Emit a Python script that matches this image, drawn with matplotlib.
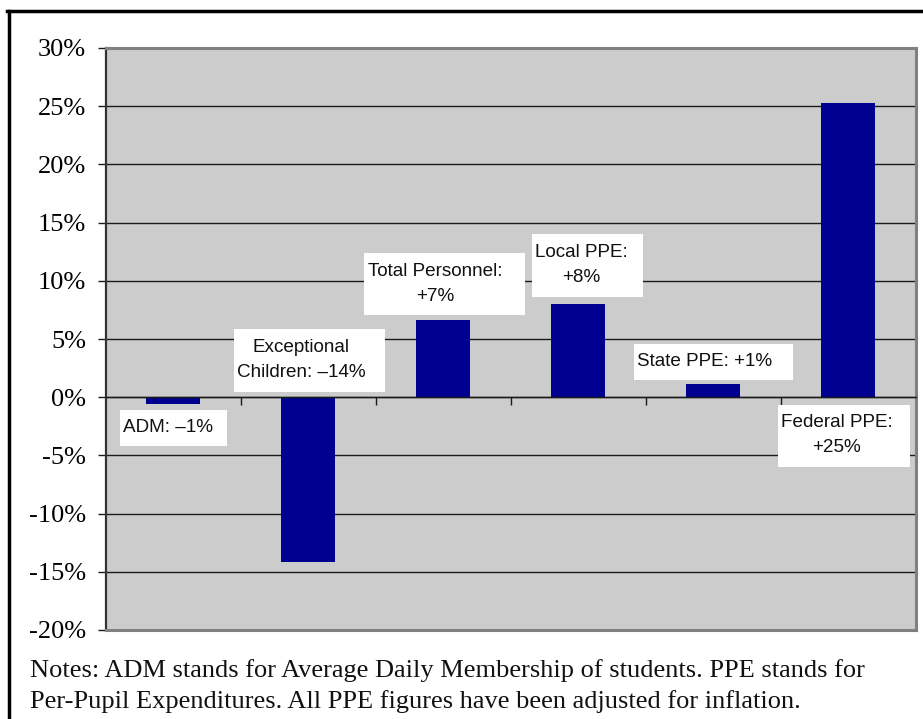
import matplotlib
matplotlib.use("Agg")
import matplotlib.pyplot as plt
from matplotlib.patches import Rectangle
from matplotlib.lines import Line2D
from matplotlib.ticker import FuncFormatter, FixedLocator

# ---- data ----
categories = ["ADM", "Exceptional Children", "Total Personnel", "Local PPE", "State PPE", "Federal PPE"]
values = [-0.6, -14.2, 6.6, 8.0, 1.1, 25.3]
label_texts = ["ADM: \u20131%", "Exceptional\nChildren: \u201314%", "Total Personnel:\n+7%",
               "Local PPE:\n+8%", "State PPE: +1%", "Federal PPE:\n+25%"]
y_ticks = [-20, -15, -10, -5, 0, 5, 10, 15, 20, 25, 30]
notes = ("Notes: ADM stands for Average Daily Membership of students. PPE stands for\n"
         "Per-Pupil Expenditures. All PPE figures have been adjusted for inflation.")

# ---- layout (label boxes in data coords: x0, x1, y0, y1; text anchor x, y, ha) ----
label_boxes = [(-0.393, 0.40, -4.16, -1.09), (0.452, 1.570, 0.48, 5.87), (1.415, 2.607, 7.07, 12.4),
               (2.659, 3.479, 8.64, 14.03), (3.415, 4.590, 1.51, 4.58), (4.481, 5.457, -5.99, -0.66)]
label_anchor = [(-0.370, -2.64, "left"), (0.948, 3.23, "center"), (1.94, 9.73, "center"),
                (3.026, 11.32, "center"), (3.437, 3.06, "left"), (4.916, -3.28, "center")]

W, H = 923, 719
fig = plt.figure(figsize=(W / 100, H / 100), dpi=100)
fig.patch.set_facecolor("white")

ax = fig.add_axes([105.5 / W, (H - 630) / H, 810 / W, 582 / H])
ax.set_facecolor("#CCCCCC")

x = list(range(len(categories)))
ax.bar(x, values, width=0.4, color="#000090", zorder=3)

ax.set_xlim(-0.5, len(categories) - 0.5)
ax.set_ylim(-20, 30)
ax.set_yticks(y_ticks)
ax.yaxis.set_major_formatter(FuncFormatter(lambda v, p: f"{int(v)}%"))
ax.yaxis.grid(True, color="#1a1a1a", linewidth=1.0, zorder=1)
ax.set_axisbelow(True)

ax.xaxis.set_major_locator(FixedLocator([i + 0.5 for i in range(len(categories))]))
ax.set_xticklabels([])
ax.spines["bottom"].set_position(("data", 0))
ax.spines["bottom"].set_color("#1a1a1a")
ax.spines["bottom"].set_linewidth(1.0)
ax.spines["bottom"].set_zorder(4)
ax.tick_params(axis="x", direction="out", length=6, width=1, color="#1a1a1a")
ax.tick_params(axis="y", direction="out", length=6, width=1, color="#1a1a1a", pad=8,
               labelsize=19)
for lab in ax.get_yticklabels():
    lab.set_fontfamily("Liberation Serif")
ax.spines["left"].set_color("#333333")
ax.spines["left"].set_linewidth(1.6)
for s in ["top", "right"]:
    ax.spines[s].set_color("#808080")
    ax.spines[s].set_linewidth(2.2)
# gray outer frame of plot area (bottom)
ax.add_line(Line2D([0, 1], [0, 0], transform=ax.transAxes, color="#808080", lw=2.2,
                   clip_on=False, zorder=5))

# labels
for (x0, x1, y0, y1), (tx, ty, ha), txt in zip(label_boxes, label_anchor, label_texts):
    ax.add_patch(Rectangle((x0, y0), x1 - x0, y1 - y0, facecolor="white", edgecolor="none",
                           zorder=6))
    ax.text(tx, ty, txt, ha=ha, va="center", multialignment="center", fontsize=13.6,
            family="Liberation Sans", linespacing=1.62, zorder=7, color="#111111")

# notes
fig.text(30 / W, 1 - 686 / H, notes, ha="left", va="center", fontsize=19,
         family="Liberation Serif", linespacing=1.42, color="#111111")

# outer black frame (left and top edges)
fig.add_artist(Line2D([8.5 / W, 8.5 / W], [0, 1 - 10.5 / H], transform=fig.transFigure,
                      color="black", lw=2.5))
fig.add_artist(Line2D([7.5 / W, 1], [1 - 11 / H, 1 - 11 / H], transform=fig.transFigure,
                      color="black", lw=2.5))

fig.savefig("out.png", dpi=100)
